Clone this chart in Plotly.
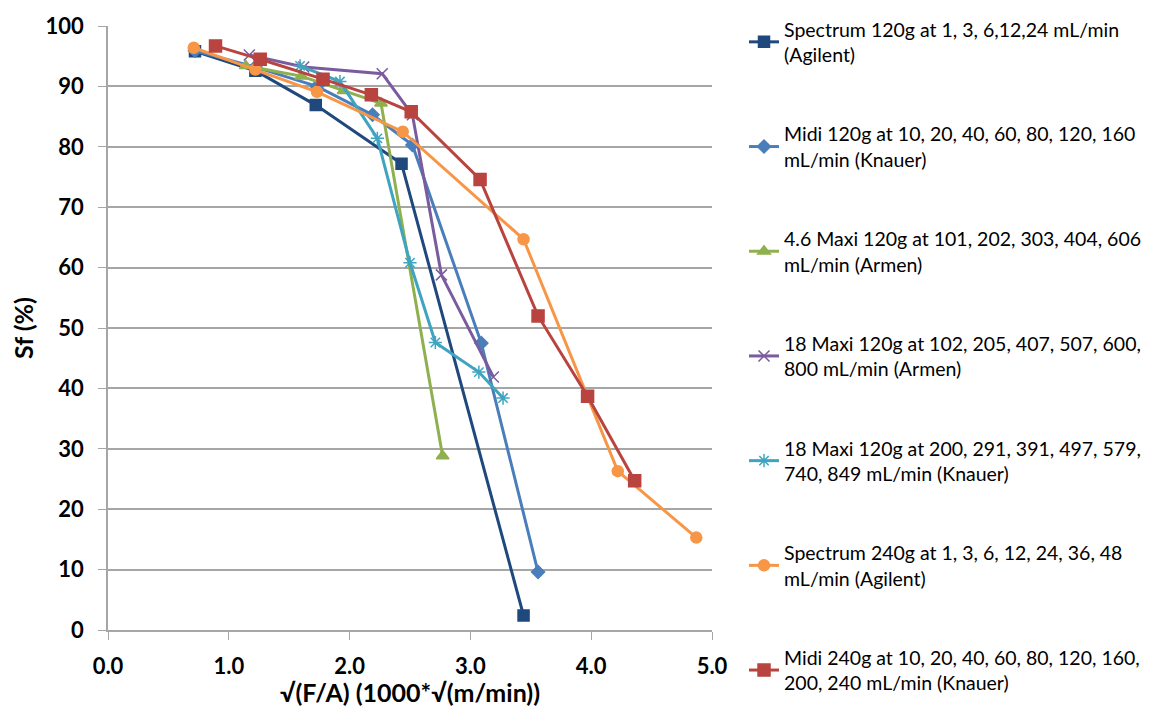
import plotly.graph_objects as go

names = [
    "Spectrum 120g at 1, 3, 6,12,24 mL/min<br>(Agilent)",
    "Midi 120g at 10, 20, 40, 60, 80, 120, 160<br>mL/min (Knauer)",
    "4.6 Maxi 120g at 101, 202, 303, 404, 606<br>mL/min (Armen)",
    "18 Maxi 120g at 102, 205, 407, 507, 600,<br>800 mL/min (Armen)",
    "18 Maxi 120g at 200, 291, 391, 497, 579,<br>740, 849 mL/min (Knauer)",
    "Spectrum 240g at 1, 3, 6, 12, 24, 36, 48<br>mL/min (Agilent)",
    "Midi 240g at 10, 20, 40, 60, 80, 120, 160,<br>200, 240 mL/min (Knauer)",
]

spec120_x = [0.72, 1.22, 1.72, 2.43, 3.44]
spec120_y = [95.8, 92.6, 86.9, 77.2, 2.4]

midi120_x = [0.72, 1.22, 1.73, 2.19, 2.52, 3.09, 3.56]
midi120_y = [95.9, 93.2, 90.0, 85.3, 80.3, 47.5, 9.6]

maxi46_x = [1.14, 1.60, 1.95, 2.26, 2.77]
maxi46_y = [93.4, 91.7, 89.3, 87.2, 28.8]

maxi18a_x = [1.17, 1.62, 2.27, 2.52, 2.76, 3.19]
maxi18a_y = [95.2, 93.2, 92.1, 85.3, 58.8, 41.9]

maxi18k_x = [1.59, 1.92, 2.23, 2.50, 2.71, 3.07, 3.27]
maxi18k_y = [93.4, 90.8, 81.4, 60.8, 47.6, 42.7, 38.4]

spec240_x = [0.71, 1.22, 1.73, 2.44, 3.44, 4.22, 4.87]
spec240_y = [96.4, 92.8, 89.1, 82.5, 64.7, 26.3, 15.3]

midi240_x = [0.89, 1.26, 1.78, 2.18, 2.51, 3.08, 3.56, 3.97, 4.36]
midi240_y = [96.7, 94.5, 91.2, 88.6, 85.8, 74.6, 52.0, 38.7, 24.7]

series = [
    (spec120_x, spec120_y, "#1F497D", "square", 11),
    (midi120_x, midi120_y, "#4A7EBB", "diamond", 10),
    (maxi46_x, maxi46_y, "#8FB04F", "triangle-up", 11),
    (maxi18a_x, maxi18a_y, "#7A5C9E", "x-thin-open", 11),
    (maxi18k_x, maxi18k_y, "#3FA4BF", "asterisk-open", 11),
    (spec240_x, spec240_y, "#F79646", "circle", 11),
    (midi240_x, midi240_y, "#B9443F", "square", 12),
]

fig = go.Figure()
for i, (xs, ys, col, sym, sz) in enumerate(series):
    fig.add_trace(go.Scatter(
        x=xs, y=ys, mode="lines+markers", name=names[i],
        legendgroup=str(i),
        line=dict(color=col, width=3),
        marker=dict(color=col, symbol=sym, size=sz,
                    line=dict(color=col, width=1.5)),
    ))

font_family = "Lato, 'Open Sans', sans-serif"

# page body has an 8px margin, so the figure is sized to fit inside it
fig.update_layout(
    width=1154, height=699,
    margin=dict(l=100, r=450, t=18, b=77, autoexpand=False),
    paper_bgcolor="white", plot_bgcolor="white",
    font=dict(family=font_family, color="black"),
    showlegend=True,
    legend=dict(
        x=1.053, y=1.0265, xanchor="left", yanchor="top",
        font=dict(size=19.5, family=font_family, color="black"),
        tracegroupgap=51, itemwidth=30, maxheight=698,
        bgcolor="rgba(0,0,0,0)",
    ),
    xaxis=dict(
        range=[0, 5], dtick=1, tick0=0, tickformat=".1f",
        showgrid=False, zeroline=False, automargin=False,
        showline=True, linecolor="#A6A6A6", linewidth=1.5,
        ticks="outside", ticklen=8, tickcolor="#A6A6A6",
        ticklabelstandoff=8,
        tickfont=dict(size=22, family=font_family, color="black", weight="bold"),
        title=dict(text="<b>√(F/A) (1000*√(m/min))</b>",
                   font=dict(size=25, family=font_family, color="black"),
                   standoff=13),
    ),
    yaxis=dict(
        range=[0, 100], dtick=10, tick0=0, automargin=False,
        showgrid=True, gridcolor="#A6A6A6", gridwidth=1.5,
        zeroline=False,
        showline=True, linecolor="#A6A6A6", linewidth=1.5,
        ticks="outside", ticklen=8, tickcolor="#A6A6A6",
        ticklabelstandoff=10,
        tickfont=dict(size=22, family=font_family, color="black", weight="bold"),
        title=dict(text="<b>Sf (%)</b>",
                   font=dict(size=25, family=font_family, color="black"),
                   standoff=10),
    ),
)

fig.write_html("out.html")
